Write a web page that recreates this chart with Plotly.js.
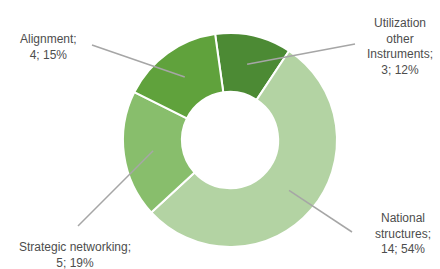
<!DOCTYPE html>
<html>
<head>
<meta charset="utf-8">
<script src="https://cdn.plot.ly/plotly-3.0.1.min.js"></script>
<style>html,body{margin:0;padding:0;background:#fff;}#chart{width:440px;height:269px;}</style>
</head>
<body>
<div id="chart"></div>
<script>
// Data
var categories = ["Utilization other instruments", "National structures", "Strategic networking", "Alignment"];
var labelTexts = ["Utilization<br>other<br>Instruments;", "National<br>structures;", "Strategic networking;", "Alignment;"];
var counts = [3, 14, 5, 4];
var percents = ["12%", "54%", "19%", "15%"];
var colors = ["#4c8a34", "#b3d3a3", "#88be6c", "#60a23c"];

// Layout geometry (pixels)
var W = 440, H = 269;
var cxPx = 230, cyPx = 140, R = 107;
var holeFrac = 0.45;
var rotation = -8;
// label centers & leader-line outer ends (pixels)
var labelPos = [[400, 46], [403, 233], [75, 255], [48, 47]];
var lineEnds = [[355, 44], [352, 232], [78, 226], [92, 45]];

function px2paper(p) { return [p[0] / W, 1 - p[1] / H]; }

var total = counts.reduce(function (a, b) { return a + b; }, 0);
var shapes = [], annotations = [];
var acc = 0;
var rMid = R * (1 + holeFrac) / 2;
for (var i = 0; i < counts.length; i++) {
  var midDeg = rotation + 360 * (acc + counts[i] / 2) / total;
  acc += counts[i];
  var a = midDeg * Math.PI / 180;
  var inner = [cxPx + rMid * Math.sin(a), cyPx - rMid * Math.cos(a)];
  var p0 = px2paper(inner), p1 = px2paper(lineEnds[i]);
  shapes.push({type: "line", xref: "paper", yref: "paper", x0: p0[0], y0: p0[1], x1: p1[0], y1: p1[1],
    line: {color: "#a6a6a6", width: 1.5}});
  var lp = px2paper(labelPos[i]);
  annotations.push({xref: "paper", yref: "paper", x: lp[0], y: lp[1], xanchor: "center", yanchor: "middle",
    showarrow: false, align: "center",
    text: labelTexts[i] + "<br>" + counts[i] + "; " + percents[i],
    font: {family: "Liberation Sans, Arial, sans-serif", size: 12, color: "#4d4d4d"}});
}

var trace = {
  type: "pie",
  labels: categories,
  values: counts,
  sort: false,
  direction: "clockwise",
  rotation: rotation,
  hole: holeFrac,
  textinfo: "none",
  hoverinfo: "none",
  marker: {colors: colors, line: {color: "#ffffff", width: 2}},
  domain: {x: [(cxPx - R) / W, (cxPx + R) / W], y: [(H - cyPx - R) / H, (H - cyPx + R) / H]}
};

var layout = {
  width: W, height: H,
  margin: {l: 0, r: 0, t: 0, b: 0},
  showlegend: false,
  paper_bgcolor: "#ffffff",
  plot_bgcolor: "#ffffff",
  shapes: shapes,
  annotations: annotations
};

Plotly.newPlot("chart", [trace], layout, {displayModeBar: false, staticPlot: true});
</script>
</body>
</html>
